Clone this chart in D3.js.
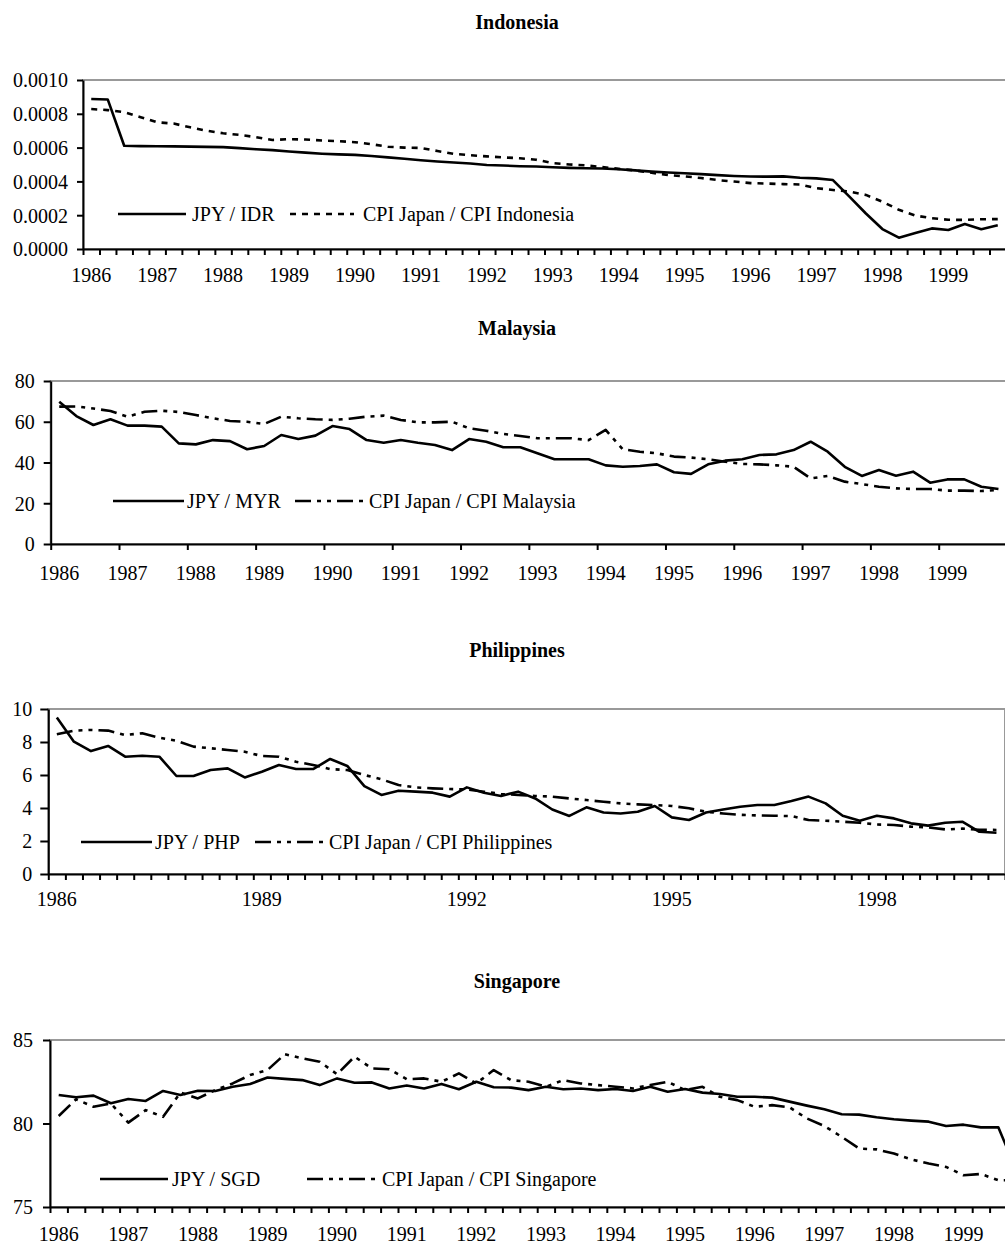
<!DOCTYPE html>
<html>
<head>
<meta charset="utf-8">
<script src="https://d3js.org/d3.v7.min.js"></script>
<style>
  body { margin: 0; background: #fff; }
  svg text { font-family: "Liberation Serif", "Times New Roman", Times, serif; }
</style>
</head>
<body>
<script>
// quarterly observations 1986Q1 .. 1999Q4
var quarters = [
  "1986Q1", "1986Q2", "1986Q3", "1986Q4", "1987Q1", "1987Q2", "1987Q3", "1987Q4",
  "1988Q1", "1988Q2", "1988Q3", "1988Q4", "1989Q1", "1989Q2", "1989Q3", "1989Q4",
  "1990Q1", "1990Q2", "1990Q3", "1990Q4", "1991Q1", "1991Q2", "1991Q3", "1991Q4",
  "1992Q1", "1992Q2", "1992Q3", "1992Q4", "1993Q1", "1993Q2", "1993Q3", "1993Q4",
  "1994Q1", "1994Q2", "1994Q3", "1994Q4", "1995Q1", "1995Q2", "1995Q3", "1995Q4",
  "1996Q1", "1996Q2", "1996Q3", "1996Q4", "1997Q1", "1997Q2", "1997Q3", "1997Q4",
  "1998Q1", "1998Q2", "1998Q3", "1998Q4", "1999Q1", "1999Q2", "1999Q3", "1999Q4"
];

// Indonesia
var idrSpot = [0.000888, 0.000885, 0.000611, 0.000609, 0.000608, 0.000607, 0.000606, 0.000604, 0.000603, 0.000597,
  0.000590, 0.000585, 0.000577, 0.000570, 0.000564, 0.000560, 0.000557, 0.000550, 0.000542, 0.000534,
  0.000525, 0.000518, 0.000512, 0.000506, 0.000497, 0.000494, 0.000490, 0.000488, 0.000484, 0.000480,
  0.000478, 0.000476, 0.000472, 0.000465, 0.000458, 0.000453, 0.000448, 0.000443, 0.000437, 0.000432,
  0.000429, 0.000428, 0.000430, 0.000422, 0.000418, 0.000408, 0.000310, 0.000210, 0.000118, 0.000067,
  0.000095, 0.000122, 0.000112, 0.000148, 0.000117, 0.000140];
var idrCpi = [0.000828, 0.000822, 0.000810, 0.000780, 0.000750, 0.000742, 0.000720, 0.000700, 0.000685, 0.000675,
  0.000662, 0.000645, 0.000650, 0.000648, 0.000642, 0.000638, 0.000632, 0.000620, 0.000605, 0.000600,
  0.000598, 0.000580, 0.000563, 0.000555, 0.000548, 0.000542, 0.000537, 0.000528, 0.000508, 0.000500,
  0.000495, 0.000485, 0.000474, 0.000465, 0.000451, 0.000438, 0.000430, 0.000420, 0.000408, 0.000399,
  0.000390, 0.000387, 0.000384, 0.000382, 0.000360, 0.000349, 0.000340, 0.000320, 0.000280, 0.000232,
  0.000198, 0.000182, 0.000173, 0.000172, 0.000176, 0.000177];

// Malaysia
var myrSpot = [69.8, 62.8, 58.4, 61.2, 58.1, 58.1, 57.6, 49.4, 48.9, 51.0,
  50.5, 46.5, 48.1, 53.5, 51.5, 53.2, 57.9, 56.4, 51.0, 49.7,
  51.0, 49.7, 48.6, 46.1, 51.5, 50.2, 47.5, 47.5, 44.5, 41.6,
  41.6, 41.6, 38.6, 37.9, 38.3, 39.1, 35.2, 34.4, 39.1, 40.9,
  41.6, 43.7, 44.0, 46.1, 50.2, 45.3, 37.9, 33.4, 36.3, 33.5,
  35.5, 30.1, 31.7, 31.7, 28.1, 27.0];
var myrCpi = [67.4, 67.5, 66.5, 65.3, 62.5, 64.9, 65.4, 64.8, 63.3, 61.7,
  60.4, 60.0, 58.9, 62.5, 61.7, 61.2, 60.9, 61.5, 62.5, 63.0,
  60.9, 59.7, 59.7, 60.0, 56.8, 55.6, 54.0, 53.0, 51.9, 51.9,
  51.9, 51.0, 56.0, 46.5, 45.3, 44.5, 42.9, 42.4, 41.6, 40.4,
  39.3, 39.1, 38.6, 37.9, 32.2, 33.4, 30.6, 29.4, 28.1, 27.3,
  27.0, 27.0, 26.2, 26.2, 26.0, 26.5];

// Philippines
var phpSpot = [9.48, 8.02, 7.45, 7.76, 7.11, 7.17, 7.11, 5.94, 5.94, 6.30,
  6.40, 5.85, 6.20, 6.61, 6.36, 6.36, 6.97, 6.55, 5.33, 4.79,
  5.05, 4.99, 4.93, 4.69, 5.25, 4.93, 4.73, 4.99, 4.58, 3.91,
  3.52, 4.04, 3.73, 3.67, 3.77, 4.12, 3.43, 3.27, 3.73, 3.91,
  4.08, 4.18, 4.18, 4.42, 4.69, 4.28, 3.53, 3.23, 3.53, 3.37,
  3.07, 2.93, 3.11, 3.17, 2.56, 2.50];
var phpCpi = [8.47, 8.69, 8.73, 8.69, 8.42, 8.53, 8.26, 8.08, 7.72, 7.62,
  7.52, 7.41, 7.15, 7.11, 6.80, 6.61, 6.36, 6.30, 6.00, 5.74,
  5.39, 5.25, 5.19, 5.15, 5.13, 4.99, 4.85, 4.79, 4.73, 4.69,
  4.58, 4.48, 4.38, 4.28, 4.22, 4.18, 4.12, 3.98, 3.77, 3.67,
  3.59, 3.55, 3.53, 3.51, 3.27, 3.23, 3.17, 3.11, 3.00, 2.97,
  2.87, 2.83, 2.70, 2.75, 2.68, 2.67];

// Singapore
var sgdSpot = [81.71, 81.57, 81.67, 81.21, 81.47, 81.35, 81.95, 81.71, 81.96, 81.95,
  82.20, 82.37, 82.75, 82.67, 82.60, 82.30, 82.70, 82.44, 82.46, 82.10,
  82.27, 82.10, 82.37, 82.05, 82.50, 82.17, 82.15, 82.00, 82.20, 82.05,
  82.10, 82.00, 82.07, 81.95, 82.20, 81.90, 82.07, 81.85, 81.77, 81.60,
  81.60, 81.55, 81.31, 81.07, 80.85, 80.55, 80.53, 80.37, 80.25, 80.17,
  80.11, 79.85, 79.93, 79.77, 79.77, 77.30];
var sgdCpi = [80.45, 81.45, 81.00, 81.20, 80.05, 80.80, 80.40, 81.85, 81.50, 82.00,
  82.40, 82.90, 83.20, 84.15, 83.90, 83.70, 82.95, 84.00, 83.30, 83.25,
  82.65, 82.70, 82.50, 83.00, 82.40, 83.20, 82.60, 82.50, 82.20, 82.60,
  82.40, 82.30, 82.20, 82.10, 82.30, 82.50, 82.00, 82.20, 81.60, 81.40,
  81.00, 81.10, 80.97, 80.30, 79.85, 79.20, 78.50, 78.45, 78.20, 77.85,
  77.60, 77.40, 76.90, 76.98, 76.60, 76.60];

var fontFamily = '"Liberation Serif", "Times New Roman", Times, serif';
var solid = null, dotted = "6,6", dashDotDot = "16,6,4,6,4,6";

var panels = [
  { title: "Indonesia", titleY: 29, left: 83, right: 1006, top: 80, bottom: 249,
    yDomain: [0, 0.001], yTicks: [0, 0.0002, 0.0004, 0.0006, 0.0008, 0.001], yFormat: d3.format(".4f"),
    tickStep: 1, labelStep: 4, labelPad: 19, yPad: 9, yTickSize: 6,
    legendY: 214,
    series: [
      { values: idrSpot, label: "JPY / IDR", dash: solid, lx: [118, 186], tx: 192 },
      { values: idrCpi, label: "CPI Japan / CPI Indonesia", dash: dotted, lx: [290, 354], tx: 363 }
    ] },
  { title: "Malaysia", titleY: 335, left: 50.7, right: 1007, top: 381, bottom: 544,
    yDomain: [0, 80], yTicks: [0, 20, 40, 60, 80], yFormat: d3.format("d"),
    tickStep: 4, labelStep: 4, labelPad: 22, yPad: 9, yTickSize: 7,
    legendY: 501,
    series: [
      { values: myrSpot, label: "JPY / MYR", dash: solid, lx: [113, 184], tx: 187 },
      { values: myrCpi, label: "CPI Japan / CPI Malaysia", dash: dashDotDot, lx: [295, 364], tx: 369 }
    ] },
  { title: "Philippines", titleY: 657, left: 48.3, right: 1005, top: 709, bottom: 874,
    yDomain: [0, 10], yTicks: [0, 2, 4, 6, 8, 10], yFormat: d3.format("d"),
    tickStep: 1, labelStep: 12, labelPad: 18, yPad: 8, yTickSize: 8,
    legendY: 842,
    series: [
      { values: phpSpot, label: "JPY / PHP", dash: solid, lx: [81, 152], tx: 155 },
      { values: phpCpi, label: "CPI Japan / CPI Philippines", dash: dashDotDot, lx: [255, 327], tx: 329 }
    ] },
  { title: "Singapore", titleY: 988, left: 50, right: 1024.4, top: 1040, bottom: 1207,
    yDomain: [75, 85], yTicks: [75, 80, 85], yFormat: d3.format("d"),
    tickStep: 1, labelStep: 4, labelPad: 20, yPad: 10, yTickSize: 7,
    legendY: 1179,
    series: [
      { values: sgdSpot, label: "JPY / SGD", dash: solid, lx: [100, 168], tx: 172 },
      { values: sgdCpi, label: "CPI Japan / CPI Singapore", dash: dashDotDot, lx: [307, 378], tx: 382 }
    ] }
];

var svg = d3.select("body").append("svg")
  .attr("width", 1005)
  .attr("height", 1245)
  .attr("font-family", fontFamily);

panels.forEach(function (p) {
  var g = svg.append("g");

  var x = d3.scaleBand().domain(quarters).range([p.left, p.right]).padding(0);
  var xEdge = d3.scaleLinear().domain([0, quarters.length]).range([p.left, p.right]);
  var y = d3.scaleLinear().domain(p.yDomain).range([p.bottom, p.top]);

  // title
  g.append("text")
    .attr("x", 517)
    .attr("y", p.titleY)
    .attr("text-anchor", "middle")
    .attr("font-size", 20)
    .attr("font-weight", "bold")
    .text(p.title);

  // plot area frame (grey)
  g.append("rect")
    .attr("x", p.left)
    .attr("y", p.top)
    .attr("width", p.right - p.left)
    .attr("height", p.bottom - p.top)
    .attr("fill", "none")
    .attr("stroke", "#999")
    .attr("stroke-width", 2);

  // series
  var line = d3.line()
    .x(function (d, i) { return x(quarters[i]) + x.bandwidth() / 2; })
    .y(function (d) { return y(d); });

  p.series.forEach(function (s) {
    g.append("path")
      .datum(s.values)
      .attr("d", line)
      .attr("fill", "none")
      .attr("stroke", "#000")
      .attr("stroke-width", 2.6)
      .attr("stroke-linejoin", "round")
      .attr("stroke-dasharray", s.dash);
  });

  // y axis
  var yAxis = g.append("g")
    .attr("transform", "translate(" + p.left + ",0)")
    .call(d3.axisLeft(y).tickValues(p.yTicks).tickFormat(p.yFormat)
      .tickSize(p.yTickSize).tickSizeOuter(0).tickPadding(p.yPad))
    .attr("font-family", fontFamily)
    .attr("font-size", 20);
  yAxis.selectAll("text").attr("dy", "0.34em");
  yAxis.selectAll("line, path").attr("stroke-width", 2);

  // x axis ticks at quarter (or year) boundaries
  var xTicks = g.append("g")
    .attr("transform", "translate(0," + p.bottom + ")")
    .call(d3.axisBottom(xEdge).tickValues(d3.range(0, quarters.length + 1, p.tickStep))
      .tickFormat("").tickSize(6).tickSizeOuter(0));
  xTicks.selectAll("line, path").attr("stroke-width", 2);

  // year labels under Q1 of each labelled year
  var xLabels = g.append("g")
    .attr("transform", "translate(0," + p.bottom + ")")
    .call(d3.axisBottom(x)
      .tickValues(quarters.filter(function (q, i) { return i % p.labelStep === 0; }))
      .tickFormat(function (q) { return q.slice(0, 4); })
      .tickSize(0).tickPadding(p.labelPad))
    .attr("font-family", fontFamily)
    .attr("font-size", 20);
  xLabels.select(".domain").remove();

  // legend
  p.series.forEach(function (s) {
    g.append("line")
      .attr("x1", s.lx[0]).attr("x2", s.lx[1])
      .attr("y1", p.legendY).attr("y2", p.legendY)
      .attr("stroke", "#000")
      .attr("stroke-width", 2.6)
      .attr("stroke-dasharray", s.dash);
    g.append("text")
      .attr("x", s.tx)
      .attr("y", p.legendY)
      .attr("dy", "0.33em")
      .attr("font-size", 20)
      .text(s.label);
  });
});
</script>
</body>
</html>
